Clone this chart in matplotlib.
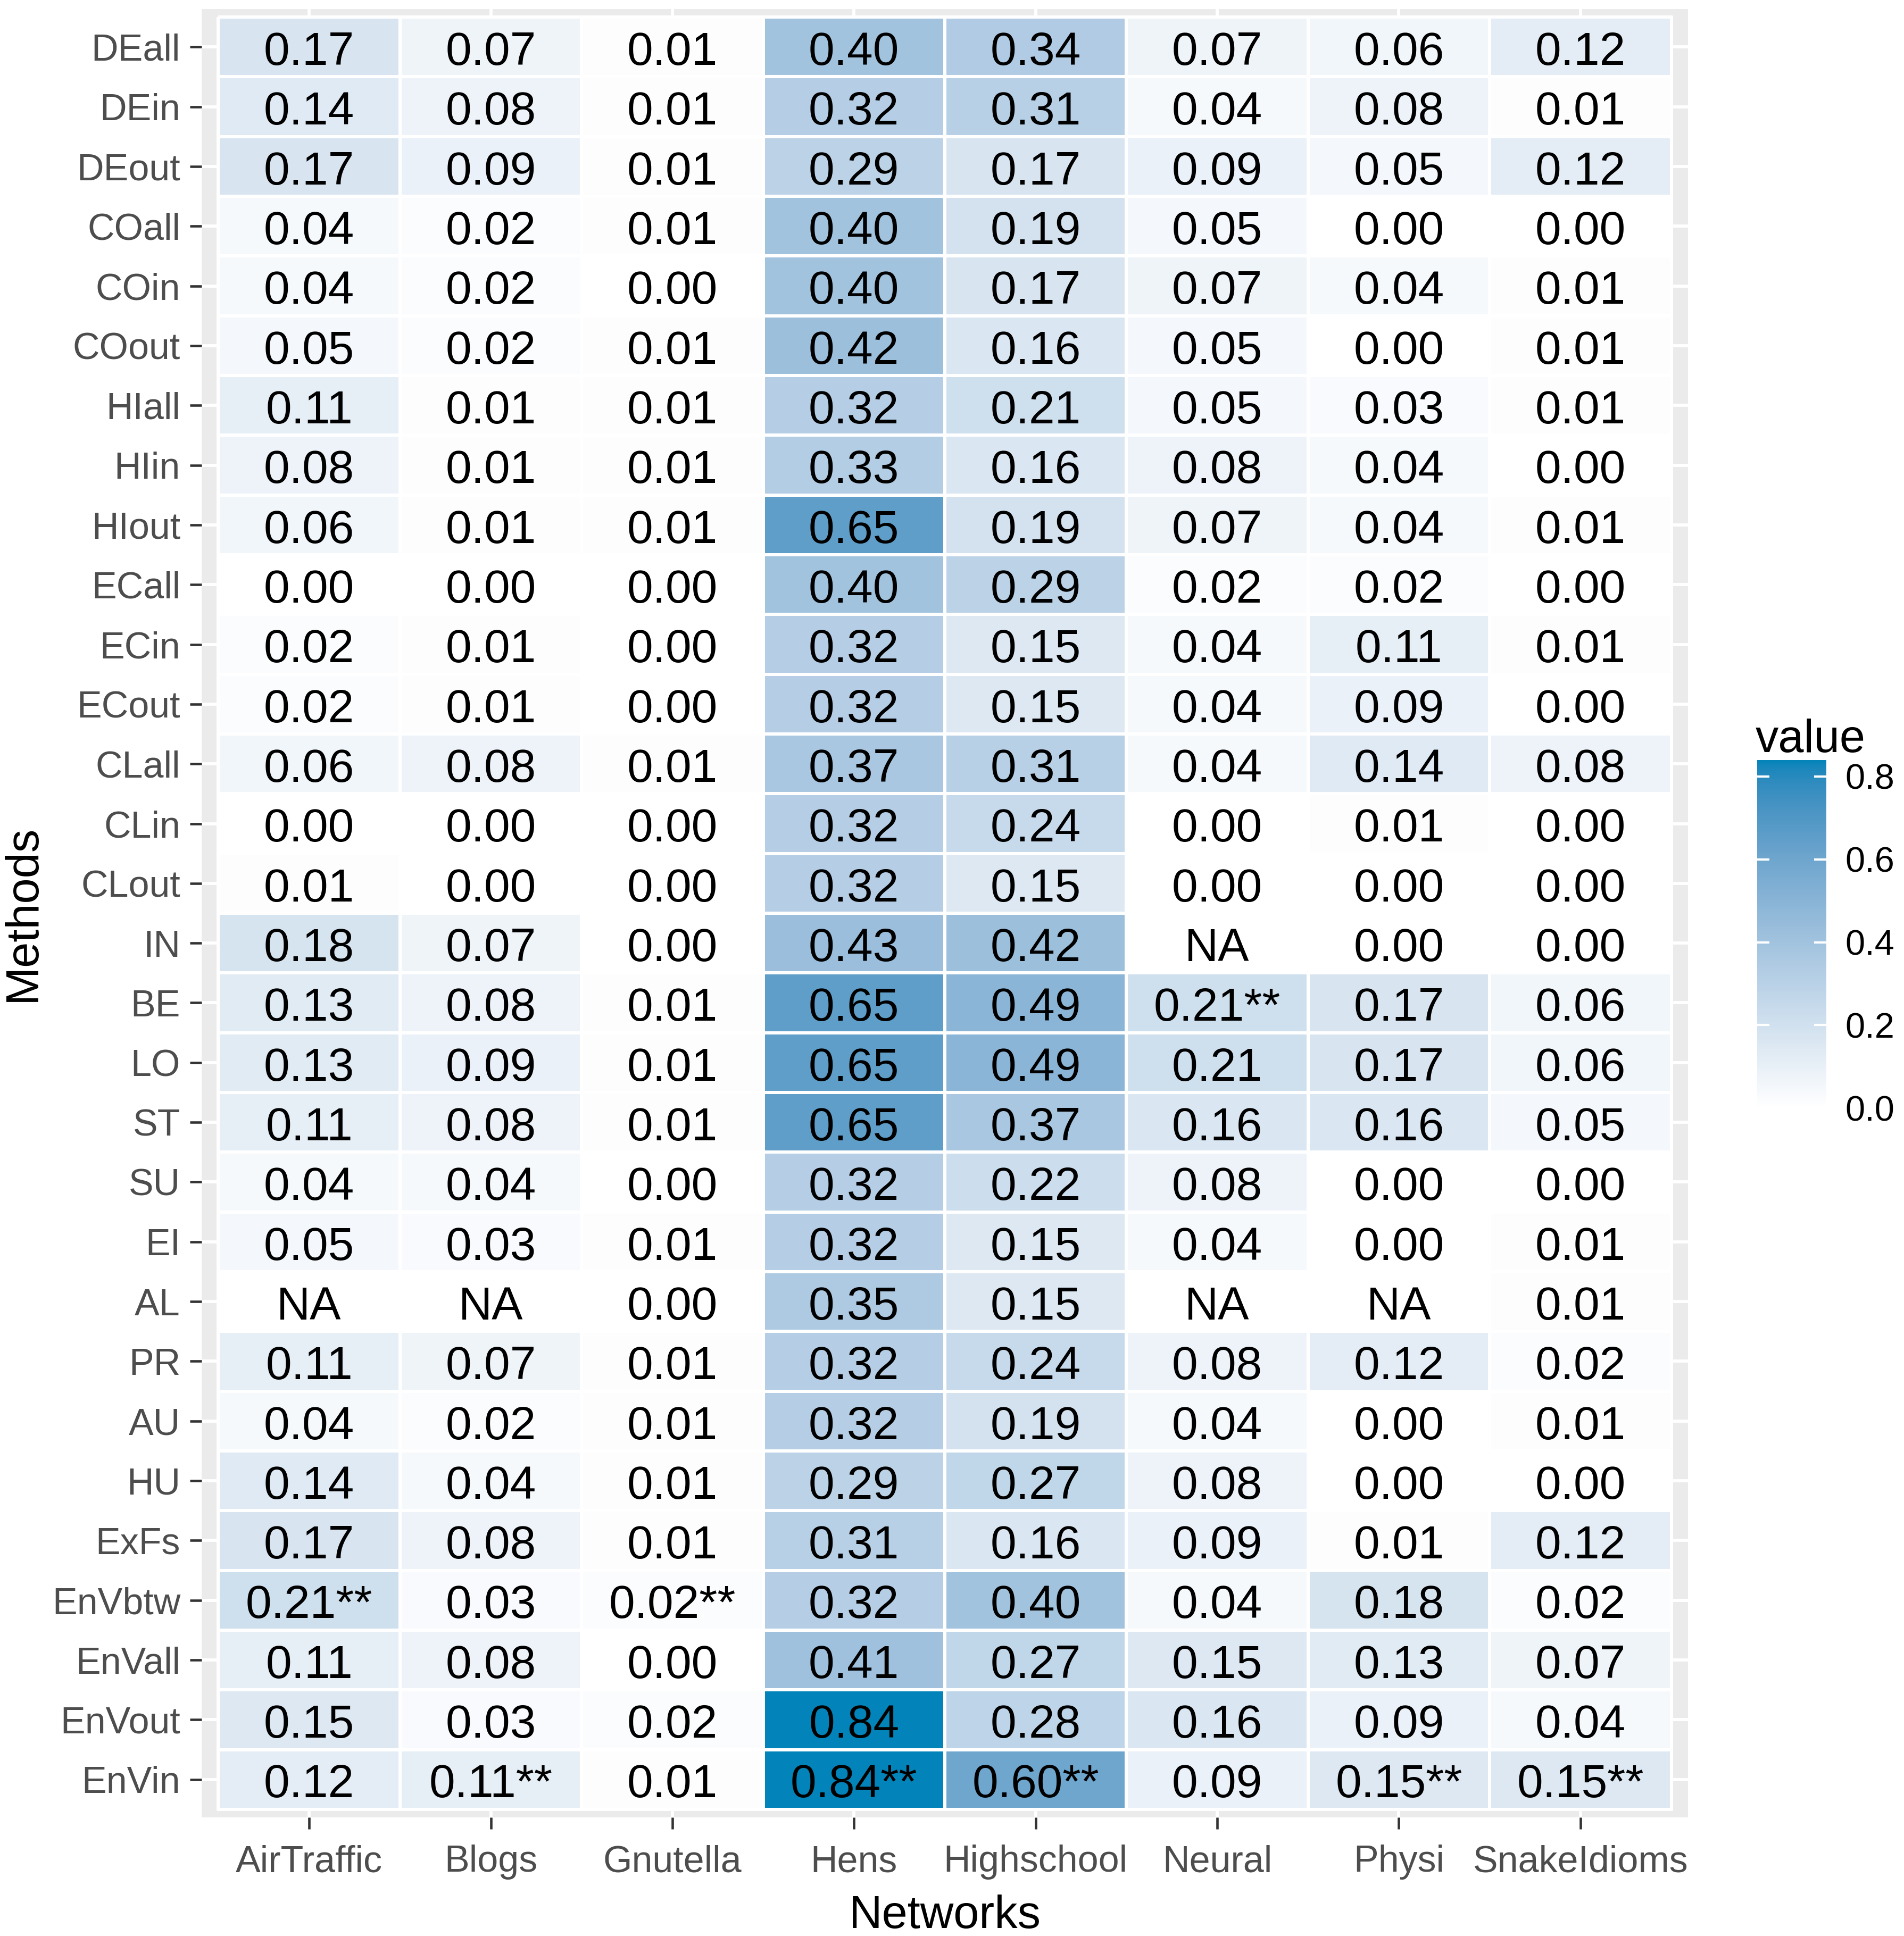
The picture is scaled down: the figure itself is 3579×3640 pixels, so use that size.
import numpy as np
import matplotlib
matplotlib.use("Agg")
import matplotlib.pyplot as plt
from matplotlib.colors import ListedColormap, Normalize
from matplotlib.cm import ScalarMappable

plt.rcParams['font.family'] = ['Liberation Sans', 'DejaVu Sans']

# ---------------- data ----------------
methods = ["DEall", "DEin", "DEout", "COall", "COin", "COout", "HIall", "HIin", "HIout",
           "ECall", "ECin", "ECout", "CLall", "CLin", "CLout", "IN", "BE", "LO", "ST",
           "SU", "EI", "AL", "PR", "AU", "HU", "ExFs", "EnVbtw", "EnVall", "EnVout", "EnVin"]
networks = ["AirTraffic", "Blogs", "Gnutella", "Hens", "Highschool", "Neural", "Physi", "SnakeIdioms"]

air_traffic = [0.17, 0.14, 0.17, 0.04, 0.04, 0.05, 0.11, 0.08, 0.06, 0.00, 0.02, 0.02, 0.06, 0.00, 0.01,
               0.18, 0.13, 0.13, 0.11, 0.04, 0.05, None, 0.11, 0.04, 0.14, 0.17, 0.21, 0.11, 0.15, 0.12]
blogs = [0.07, 0.08, 0.09, 0.02, 0.02, 0.02, 0.01, 0.01, 0.01, 0.00, 0.01, 0.01, 0.08, 0.00, 0.00,
         0.07, 0.08, 0.09, 0.08, 0.04, 0.03, None, 0.07, 0.02, 0.04, 0.08, 0.03, 0.08, 0.03, 0.11]
gnutella = [0.01, 0.01, 0.01, 0.01, 0.00, 0.01, 0.01, 0.01, 0.01, 0.00, 0.00, 0.00, 0.01, 0.00, 0.00,
            0.00, 0.01, 0.01, 0.01, 0.00, 0.01, 0.00, 0.01, 0.01, 0.01, 0.01, 0.02, 0.00, 0.02, 0.01]
hens = [0.40, 0.32, 0.29, 0.40, 0.40, 0.42, 0.32, 0.33, 0.65, 0.40, 0.32, 0.32, 0.37, 0.32, 0.32,
        0.43, 0.65, 0.65, 0.65, 0.32, 0.32, 0.35, 0.32, 0.32, 0.29, 0.31, 0.32, 0.41, 0.84, 0.84]
highschool = [0.34, 0.31, 0.17, 0.19, 0.17, 0.16, 0.21, 0.16, 0.19, 0.29, 0.15, 0.15, 0.31, 0.24, 0.15,
              0.42, 0.49, 0.49, 0.37, 0.22, 0.15, 0.15, 0.24, 0.19, 0.27, 0.16, 0.40, 0.27, 0.28, 0.60]
neural = [0.07, 0.04, 0.09, 0.05, 0.07, 0.05, 0.05, 0.08, 0.07, 0.02, 0.04, 0.04, 0.04, 0.00, 0.00,
          None, 0.21, 0.21, 0.16, 0.08, 0.04, None, 0.08, 0.04, 0.08, 0.09, 0.04, 0.15, 0.16, 0.09]
physi = [0.06, 0.08, 0.05, 0.00, 0.04, 0.00, 0.03, 0.04, 0.04, 0.02, 0.11, 0.09, 0.14, 0.01, 0.00,
         0.00, 0.17, 0.17, 0.16, 0.00, 0.00, None, 0.12, 0.00, 0.00, 0.01, 0.18, 0.13, 0.09, 0.15]
snake_idioms = [0.12, 0.01, 0.12, 0.00, 0.01, 0.01, 0.01, 0.00, 0.01, 0.00, 0.01, 0.00, 0.08, 0.00, 0.00,
                0.00, 0.06, 0.06, 0.05, 0.00, 0.01, 0.01, 0.02, 0.01, 0.00, 0.12, 0.02, 0.07, 0.04, 0.15]

significant = [("BE", "Neural"), ("EnVbtw", "AirTraffic"), ("EnVbtw", "Gnutella"),
               ("EnVin", "Blogs"), ("EnVin", "Hens"), ("EnVin", "Highschool"),
               ("EnVin", "Physi"), ("EnVin", "SnakeIdioms")]

columns = [air_traffic, blogs, gnutella, hens, highschool, neural, physi, snake_idioms]

# ---------------- colour scale (Lab interpolation white -> blue) ----------------
def srgb_to_lab(rgb):
    rgb = np.asarray(rgb, float)
    lin = np.where(rgb <= 0.04045, rgb / 12.92, ((rgb + 0.055) / 1.055) ** 2.4)
    M = np.array([[0.4124, 0.3576, 0.1805], [0.2126, 0.7152, 0.0722], [0.0193, 0.1192, 0.9505]])
    xyz = M @ lin
    xyz = xyz / np.array([0.95047, 1.0, 1.08883])
    f = np.where(xyz > 0.008856, np.cbrt(xyz), 7.787 * xyz + 16 / 116)
    return np.array([116 * f[1] - 16, 500 * (f[0] - f[1]), 200 * (f[1] - f[2])])

def lab_to_srgb(lab):
    L, a, b = lab
    fy = (L + 16) / 116
    fx = fy + a / 500
    fz = fy - b / 200
    f = np.array([fx, fy, fz])
    xyz = np.where(f ** 3 > 0.008856, f ** 3, (f - 16 / 116) / 7.787)
    xyz = xyz * np.array([0.95047, 1.0, 1.08883])
    Minv = np.array([[3.2406, -1.5372, -0.4986], [-0.9689, 1.8758, 0.0415], [0.0557, -0.2040, 1.0570]])
    lin = Minv @ xyz
    lin = np.clip(lin, 0, 1)
    rgb = np.where(lin <= 0.0031308, 12.92 * lin, 1.055 * lin ** (1 / 2.4) - 0.055)
    return np.clip(rgb, 0, 1)

low = np.array([1.0, 1.0, 1.0])
high = np.array([2, 132, 186]) / 255.0
lab_lo, lab_hi = srgb_to_lab(low), srgb_to_lab(high)
cols = [lab_to_srgb(lab_lo + t * (lab_hi - lab_lo)) for t in np.linspace(0, 1, 256)]
cmap = ListedColormap(cols)
cmap.set_bad('white')

# ---------------- build matrix ----------------
nr, nc = len(methods), len(networks)
vals = np.array([[np.nan if columns[j][i] is None else columns[j][i] for j in range(nc)] for i in range(nr)])
masked = np.ma.masked_invalid(vals)
vmax = np.nanmax(vals)
norm = Normalize(vmin=0, vmax=vmax)

W, H = 3579, 3640
DPI = 300
fig = plt.figure(figsize=(W / DPI, H / DPI), dpi=DPI)
ax = fig.add_axes([379 / W, 1 - 3417 / H, (3173 - 379) / W, (3417 - 17) / H])
ax.set_facecolor('#EBEBEB')

xe = np.arange(nc + 1) - 0.5
ye = np.arange(nr + 1) - 0.5
ax.pcolormesh(xe, ye, masked, cmap=cmap, norm=norm, edgecolors='white', linewidth=1.4, zorder=2)

for i, m in enumerate(methods):
    for j, n in enumerate(networks):
        v = vals[i, j]
        if np.isnan(v):
            lab = "NA"
        else:
            lab = f"{v:.2f}" + ("**" if (m, n) in significant else "")
        ax.text(j, i + 0.30, lab, ha='center', va='baseline', fontsize=21, color='black', zorder=3)

mx, my = 0.092, 0.134
ax.set_xlim(-0.5 - mx, nc - 0.5 + mx)
ax.set_ylim(nr - 0.5 + my, -0.5 - my)
ax.set_xticks(range(nc))
ax.set_xticklabels(networks)
ax.set_yticks(range(nr))
ax.set_yticklabels(methods)
ax.set_axisbelow(True)
ax.grid(True, color='white', linewidth=1.4, zorder=0.5)
for s in ax.spines.values():
    s.set_visible(False)
ax.tick_params(axis='both', length=5.3, width=1.1, color='#333333', labelsize=16.8, labelcolor='#4D4D4D')
ax.tick_params(axis='x', pad=7)
ax.tick_params(axis='y', pad=4.3)

fig.text(1776 / W, 1 - 3625 / H, "Networks", ha='center', va='baseline', fontsize=20.8, color='black')
fig.text(43 / W, 1 - 1717 / H, "Methods", ha='center', va='center', rotation=90, fontsize=20.8, color='black')

# ---------------- colour bar ----------------
top_px = 2083 - vmax * 778.75
cax = fig.add_axes([3303 / W, 1 - 2083 / H, 130 / W, (2083 - top_px) / H])
sm = ScalarMappable(norm=norm, cmap=cmap)
cb = fig.colorbar(sm, cax=cax, ticks=[0.0, 0.2, 0.4, 0.6, 0.8])
cb.outline.set_visible(False)
cb.ax.set_yticklabels(["0.0", "0.2", "0.4", "0.6", "0.8"])
cb.ax.minorticks_off()
cax.tick_params(left=True, right=True, direction='in', color='white', length=5.5, width=1.0,
                labelsize=16, pad=8.4, labelcolor='black')
fig.text(3300 / W, 1 - 1414 / H, "value", ha='left', va='baseline', fontsize=20.8, color='black')

fig.savefig("out.png", dpi=DPI)
